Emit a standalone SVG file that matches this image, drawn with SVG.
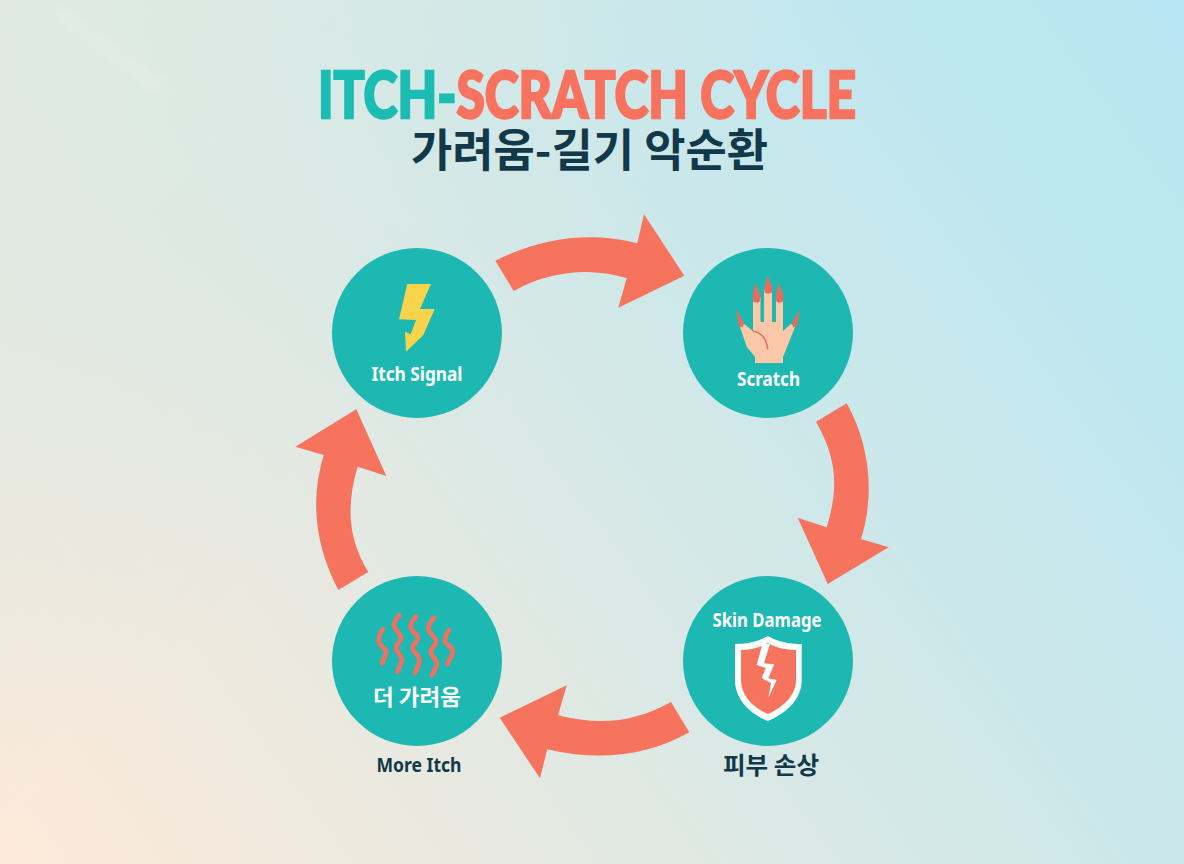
<svg xmlns="http://www.w3.org/2000/svg" width="1184" height="864" viewBox="0 0 1184 864">
<style>
.lat{font-family:"Noto Sans","Open Sans","Liberation Sans",sans-serif;font-weight:700}
.kr{font-family:"Noto Sans CJK KR","Noto Sans",sans-serif;font-weight:700}
.t{font-family:"Lato","Inter","Liberation Sans",sans-serif;font-weight:900;font-size:64px;stroke-width:2.400;stroke-linejoin:miter}
.w{fill:#fff}.d{fill:#12394a}
.node{fill:#1eb8b2}
.arrow{fill:#f6745e}
.wave{fill:none;stroke:#f2705f;stroke-width:4.700;stroke-linecap:round;stroke-linejoin:round}
</style>
<defs>
<linearGradient id="bg" gradientUnits="userSpaceOnUse" x1="0" y1="864" x2="1184" y2="0">
<stop offset="0" stop-color="#fde9d9"/><stop offset=".28" stop-color="#e8e9e1"/><stop offset=".55" stop-color="#d2e8e8"/><stop offset=".85" stop-color="#bde7f0"/><stop offset="1" stop-color="#b8e6f2"/>
</linearGradient>
<linearGradient id="tl" gradientUnits="userSpaceOnUse" x1="0" y1="0" x2="420" y2="420">
<stop offset="0" stop-color="#dfeae2" stop-opacity=".9"/><stop offset="1" stop-color="#d6e9e6" stop-opacity="0"/>
</linearGradient>
<filter id="soft" x="-30%" y="-100%" width="160%" height="300%"><feGaussianBlur stdDeviation="6"/></filter>
</defs>
<rect id="background" width="1184" height="864" fill="url(#bg)"/>
<rect width="1184" height="864" fill="url(#tl)"/>
<path d="M55 10L165 92" stroke="#fff" stroke-opacity=".18" stroke-width="9" filter="url(#soft)"/>
<g id="title">
<text class="t" x="318" y="117.500" textLength="538" lengthAdjust="spacingAndGlyphs" fill="#f8735f" stroke="#f8735f"><tspan fill="#1bbdb3" stroke="#1bbdb3">ITCH-</tspan>SCRATCH CYCLE</text>
<text class="kr d" x="411" y="167" font-size="45" textLength="357" lengthAdjust="spacingAndGlyphs">가려움-길기 악순환</text>
</g>
<g id="connectors">
<path class="arrow" d="M495.300 260.700C540 238 590 231 637.300 243.300L644 214.300L684.300 275.700L618.300 307.700L626.700 278.300C590 267 550 271 513.700 291Z"/>
<path class="arrow" d="M846.700 403.300C870 445 875 495 861 539L888.700 547.300L827.700 584L797.700 517.700L826.700 527.300C838 490 838 460 816 421.700Z"/>
<path class="arrow" d="M689.300 732.300C650 755 600 762 547.300 749.300L540 778.300L499.700 717.700L566.700 685.300L558 715.300C600 726 635 722 671 702Z"/>
<path class="arrow" d="M338.300 590C315 545 310 500 323.700 455L295.300 446.700L356.300 409.300L386.300 476L357.700 466.700C346 505 348 540 368.300 572Z"/>
</g>
<g id="itch-signal">
<circle class="node" cx="417" cy="333" r="85"/>
<path fill="#f8d34c" d="M407.300 284H431L420 309H434.700L423.300 335L406 351.700L405 331.700L410.700 334.300L416 320L399 319.300Z"/>
<text class="lat w" x="417" y="381" font-size="20" text-anchor="middle" textLength="91" lengthAdjust="spacingAndGlyphs">Itch Signal</text>
</g>
<g id="scratch">
<circle class="node" cx="768" cy="333" r="85"/>
<path fill="#fbc9a8" d="M755 363V357L746.700 346.700L740 327L744 324L753 331V298Q756.500 292 760.500 298V322H764V290Q768 284 772 290V322H776V298Q779.500 292 783 298V331L791 324L795 327L783 357V363Z"/>
<g fill="#ee6a58">
<path d="M755.300 283L759.700 294L760 301C758 303 755 303 753 301L753 294Z"/>
<path d="M767.700 275.700L772 287L772 292C770 294 766 294 764.500 292V287Z"/>
<path d="M778.700 283L783 294L783 301C781 303 778 303 776 301V294Z"/>
<path d="M736 309L743.500 322L743 327.500L739 326Z"/>
<path d="M800 309L797 326L793 327.500L792.500 322Z"/>
</g>
<path d="M752.700 331C761 332 767 339 767.700 349.300" fill="none" stroke="#ee6a58" stroke-width="1.600"/>
<text class="lat w" x="768.500" y="386" font-size="20" text-anchor="middle" textLength="63" lengthAdjust="spacingAndGlyphs">Scratch</text>
</g>
<g id="skin-damage">
<circle class="node" cx="768" cy="661" r="85"/>
<text class="lat w" x="767" y="627" font-size="20" text-anchor="middle" textLength="109" lengthAdjust="spacingAndGlyphs">Skin Damage</text>
<path fill="#fff" d="M767.700 636C778 642 790 644 801.700 644V680C801.700 699 787 713 767.700 721C749 713 735 699 735 680V644C747 644 758 642 767.700 636Z"/>
<path class="arrow" d="M767.700 643C777 648 787 650 796 650V680C796 695 784 707 767.700 714C752 707 741 695 741 680V650C750 650 760 648 767.700 643Z"/>
<path fill="#fff" d="M762.300 644H770L764 663.300L774.300 664.300L768.300 678.300L776.700 680L768.300 698L771 683L761.700 678L765.700 668L756.700 665Z"/>
</g>
<g id="more-itch">
<circle class="node" cx="417" cy="661" r="85"/>
<g class="wave">
<path d="M382.700 629.300C380 633 378.700 637 378.700 641.700C378.700 645 386 648 386 651.700C386 656 383 660 381.700 663.300"/>
<path d="M399.300 615C396 619 394 622 394 625C394 630 401 633 401 638.300C401 642 396 644 396 647.300C396 652 401.700 655 401.700 660C401.700 664 399 668 397.300 671.700"/>
<path d="M416 616.700C413 620 410.700 623 410.700 626.700C410.700 631 417.700 634 417.700 638.300C417.700 642 412.700 644 412.700 647.300C412.700 652 419.300 655 419.300 660C419.300 665 417 669 415 672.700"/>
<path d="M434 617.700C431 621 428.300 624 428.300 628.300C428.300 633 436 637 436 641.700C436 645 430.700 648 430.700 651.700C430.700 656 436.700 659 436.700 663.300C436.700 668 434 671 431.700 675"/>
<path d="M449 630C447 633 445 636 445 640C445 645 452.700 647 452.700 651C452.700 656 449 660 447.300 664"/>
</g>
<text class="kr w" x="417" y="705" font-size="22" font-weight="500" text-anchor="middle" textLength="88" lengthAdjust="spacingAndGlyphs">더 가려움</text>
</g>
<text class="lat d" x="419" y="772" font-size="20" text-anchor="middle" textLength="85" lengthAdjust="spacingAndGlyphs">More Itch</text>
<text class="kr d" x="771" y="774" font-size="24" text-anchor="middle" textLength="96" lengthAdjust="spacingAndGlyphs">피부 손상</text>
</svg>
